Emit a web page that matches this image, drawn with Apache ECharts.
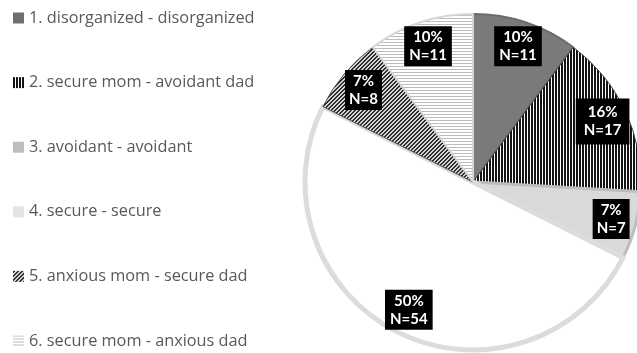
<!DOCTYPE html>
<html>
<head>
<meta charset="utf-8">
<script src="https://cdn.jsdelivr.net/npm/echarts@6/dist/echarts.min.js"></script>
<style>
  html, body { margin: 0; padding: 0; background: #ffffff; }
  #chart { width: 637px; height: 353px; }
</style>
</head>
<body>
<div id="chart"></div>
<script>
// Attachment-pattern combinations (mother - father) and group sizes
const categories = [
  '1. disorganized - disorganized',
  '2. secure mom - avoidant dad',
  '3. avoidant - avoidant',
  '4. secure - secure',
  '5. anxious mom - secure dad',
  '6. secure mom - anxious dad'
];
const counts = [11, 17, 7, 54, 8, 11];

// Small repeating tiles used as slice fills
function tile(w, h, paint) {
  const c = document.createElement('canvas');
  c.width = w; c.height = h;
  const ctx = c.getContext('2d');
  paint(ctx, w, h);
  return { image: c, repeat: 'repeat' };
}
const verticalStripes = tile(3, 3, (ctx, w, h) => {
  ctx.fillStyle = '#ffffff'; ctx.fillRect(0, 0, w, h);
  ctx.fillStyle = '#141414'; ctx.fillRect(0, 0, 2, h);
});
const diagonalStripes = tile(4, 4, (ctx, w, h) => {
  for (let x = 0; x < w; x++) {
    for (let y = 0; y < h; y++) {
      ctx.fillStyle = ((x + y) % 4 < 2) ? '#2e2e2e' : '#d4d4d4';
      ctx.fillRect(x, y, 1, 1);
    }
  }
});
const horizontalStripes = tile(3, 3, (ctx, w, h) => {
  ctx.fillStyle = '#ffffff'; ctx.fillRect(0, 0, w, h);
  ctx.fillStyle = '#bcbcbc'; ctx.fillRect(0, 0, w, 1);
});

const sliceStyles = [
  { color: '#7a7a7a', borderColor: '#6b6b6b', borderWidth: 2 },
  { color: verticalStripes, borderColor: '#444444', borderWidth: 1 },
  { color: '#d9d9d9', borderColor: '#bdbdbd', borderWidth: 3 },
  { color: '#ffffff', borderColor: '#dcdcdc', borderWidth: 5 },
  { color: diagonalStripes, borderColor: '#555555', borderWidth: 1 },
  { color: horizontalStripes, borderColor: '#d6d6d6', borderWidth: 2 }
];
const legendIconStyles = [
  { color: '#6e6e6e' },
  { color: verticalStripes },
  { color: '#bdbdbd' },
  { color: '#e4e4e4' },
  { color: diagonalStripes },
  { color: horizontalStripes }
];
const labelPadding = [[2, 5], [5, 8], [2, 4], [2, 5], [2, 4], [2, 5]];

const pieData = categories.map((name, i) => ({ name, value: counts[i], itemStyle: sliceStyles[i] }));
const labelData = categories.map((name, i) => ({
  name, value: counts[i],
  label: { padding: labelPadding[i] }
}));

const chart = echarts.init(document.getElementById('chart'), null, { renderer: 'canvas' });
chart.setOption({
  animation: false,
  backgroundColor: '#ffffff',
  legend: {
    orient: 'vertical',
    left: 8,
    top: 3,
    height: 400,
    icon: 'rect',
    itemWidth: 11,
    itemHeight: 11,
    itemGap: 44.6,
    selectedMode: false,
    itemStyle: { borderWidth: 0 },
    textStyle: { color: '#595959', fontSize: 16.3, lineHeight: 20, fontFamily: '"Open Sans", sans-serif' },
    data: categories.map((name, i) => ({ name, itemStyle: legendIconStyles[i] }))
  },
  series: [
    {
      type: 'pie',
      center: [473, 182],
      radius: [0, 168],
      startAngle: 90,
      clockwise: true,
      silent: true,
      label: { show: false },
      labelLine: { show: false },
      data: pieData
    },
    {
      // transparent ring carrying the value labels at ~0.83 of the radius
      type: 'pie',
      center: [473, 182],
      radius: [112, 168],
      startAngle: 90,
      clockwise: true,
      silent: true,
      percentPrecision: 0,
      itemStyle: { color: 'rgba(0,0,0,0)', borderWidth: 0 },
      labelLine: { show: false },
      label: {
        show: true,
        position: 'inside',
        formatter: p => p.percent + '%\nN=' + p.value,
        color: '#ffffff',
        backgroundColor: '#000000',
        fontFamily: 'Lato, "Open Sans", sans-serif',
        fontWeight: 'bold',
        fontSize: 15,
        lineHeight: 18,
        align: 'center'
      },
      data: labelData
    }
  ]
});
</script>
</body>
</html>
